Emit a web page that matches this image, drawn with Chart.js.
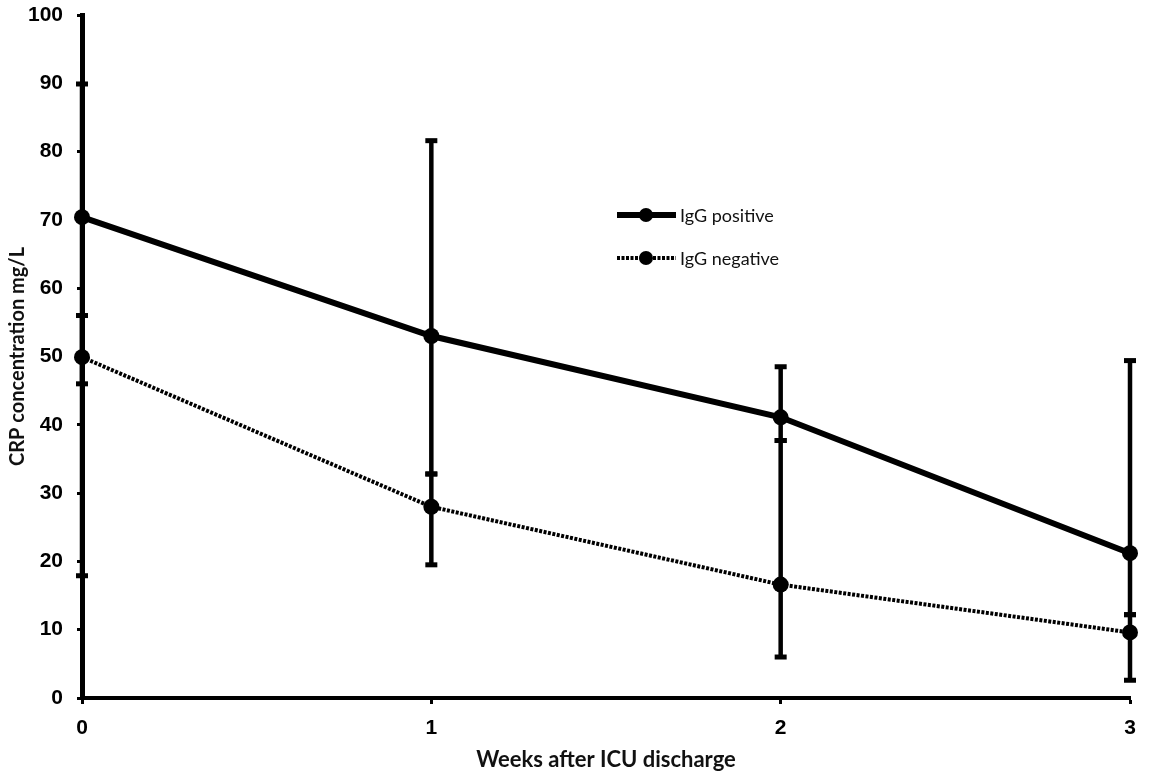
<!DOCTYPE html>
<html>
<head>
<meta charset="utf-8">
<script src="https://cdn.jsdelivr.net/npm/chart.js@4"></script>
<style>
  body { margin: 0; background: #fff; }
</style>
</head>
<body>
<canvas id="crpChart" width="1149" height="775"></canvas>
<script>
// weeks after ICU discharge
const weeks = [0, 1, 2, 3];

// mean CRP (mg/L)
const iggPositive = [70.4, 53.0, 41.1, 21.2];
const iggNegative = [49.9, 28.0, 16.6, 9.6];

// error bar ends
const posLow = [17.9, 32.8, 37.7, 12.2];
const posHigh = [89.9, 81.6, 48.5, 49.4];
const negLow = [46.0, 19.5, 6.0, 2.6];
const negHigh = [56.0, 32.8, 37.7, 12.2];

// y ticks
const yTicks = [0, 10, 20, 30, 40, 50, 60, 70, 80, 90, 100];

// draw error bars under the points
const errorBars = {
  id: "errorBars",
  beforeDatasetsDraw(chart) {
    const ctx = chart.ctx;
    const x = chart.scales.x;
    const y = chart.scales.y;
    const sets = [[posLow, posHigh], [negLow, negHigh]];
    ctx.save();
    ctx.strokeStyle = "#000";
    ctx.fillStyle = "#000";
    ctx.lineWidth = 4.5;
    sets.forEach(function (s) {
      for (let i = 0; i < weeks.length; i++) {
        let px = x.getPixelForValue(weeks[i]);
        let top = y.getPixelForValue(s[1][i]);
        let bot = y.getPixelForValue(s[0][i]);
        ctx.beginPath();
        ctx.moveTo(px, top);
        ctx.lineTo(px, bot);
        ctx.stroke();
        ctx.fillRect(px - 6, top - 2.5, 12, 5);
        ctx.fillRect(px - 6, bot - 2.5, 12, 5);
      }
    });
    ctx.restore();
  },
};

// legend inside the plot
const innerLegend = {
  id: "innerLegend",
  afterDraw(chart) {
    const ctx = chart.ctx;
    const items = [
      { text: "IgG positive", y: 215, width: 6, dash: [] },
      { text: "IgG negative", y: 258, width: 4, dash: [3, 1.5] },
    ];
    ctx.save();
    items.forEach(function (it) {
      ctx.strokeStyle = "#000";
      ctx.lineWidth = it.width;
      ctx.setLineDash(it.dash);
      ctx.beginPath();
      ctx.moveTo(617, it.y);
      ctx.lineTo(676, it.y);
      ctx.stroke();
      ctx.setLineDash([]);
      ctx.fillStyle = "#000";
      ctx.beginPath();
      ctx.arc(646, it.y, 7, 0, Math.PI * 2);
      ctx.fill();
      ctx.fillStyle = "#111";
      ctx.font = "18px Lato";
      ctx.textBaseline = "middle";
      ctx.fillText(it.text, 680, it.y + 1);
    });
    ctx.restore();
  },
};

let canvas = document.getElementById("crpChart").getContext("2d");
new Chart(canvas, {
  type: "line",
  data: {
    datasets: [
      {
        label: "IgG positive",
        data: weeks.map((w, i) => ({ x: w, y: iggPositive[i] })),
        borderColor: "#000",
        backgroundColor: "#000",
        borderWidth: 6,
        pointRadius: 8,
        pointBorderWidth: 0,
        clip: false,
      },
      {
        label: "IgG negative",
        data: weeks.map((w, i) => ({ x: w, y: iggNegative[i] })),
        borderColor: "#000",
        backgroundColor: "#000",
        borderWidth: 4,
        borderDash: [3, 1.5],
        pointRadius: 8,
        pointBorderWidth: 0,
        clip: false,
      },
    ],
  },
  options: {
    responsive: false,
    animation: false,
    devicePixelRatio: 1,
    layout: {
      padding: { top: 15, right: 19, left: 0, bottom: 0 },
    },
    plugins: {
      legend: { display: false },
      tooltip: { enabled: false },
    },
    scales: {
      x: {
        type: "linear",
        min: 0,
        max: 3,
        afterFit: function (s) {
          s.height = 77;
          s.paddingLeft = 0;
          s.paddingRight = 0;
        },
        ticks: {
          stepSize: 1,
          padding: 12,
          color: "#000",
          font: { family: "Liberation Sans", size: 21, weight: "bold" },
        },
        grid: {
          drawOnChartArea: false,
          tickLength: 6,
          tickWidth: 3,
          color: "#000",
        },
        border: { display: true, width: 4, color: "#000" },
        title: {
          display: true,
          text: "Weeks after ICU discharge",
          color: "#111",
          font: { family: "Lato", size: 22, weight: "bold" },
          padding: { top: 0, bottom: 2 },
        },
      },
      y: {
        min: 0,
        max: 100,
        afterFit: function (s) {
          s.width = 82;
          s.paddingTop = 0;
          s.paddingBottom = 0;
        },
        afterBuildTicks: function (s) {
          s.ticks = yTicks.map((v) => ({ value: v }));
        },
        ticks: {
          padding: 14,
          color: "#000",
          font: { family: "Liberation Sans", size: 21, weight: "bold" },
        },
        grid: {
          drawOnChartArea: false,
          tickLength: 5,
          tickWidth: 3,
          color: "#000",
        },
        border: { display: true, width: 5, color: "#000" },
        title: {
          display: true,
          text: "CRP concentration mg/L",
          color: "#111",
          font: { family: "Lato", size: 20, weight: "bold" },
          padding: { top: 6, bottom: 0 },
        },
      },
    },
  },
  plugins: [errorBars, innerLegend],
});
</script>
</body>
</html>
